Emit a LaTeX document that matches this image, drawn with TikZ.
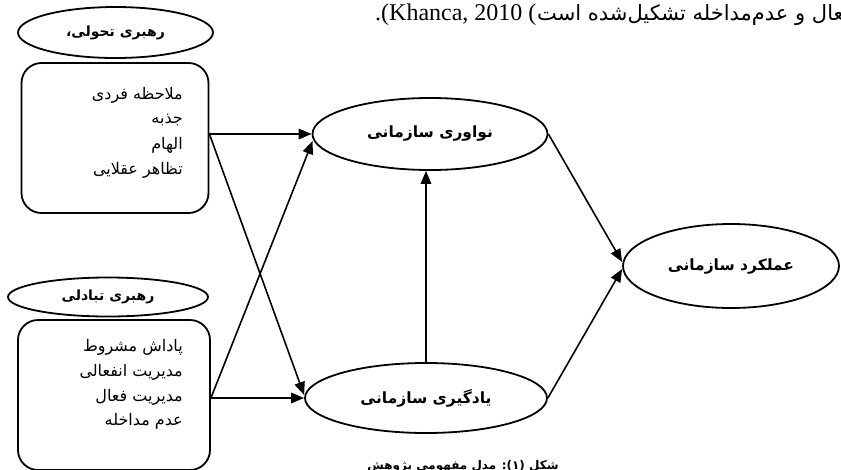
\documentclass[tikz,border=0pt]{standalone}
\usepackage{fontspec}
\setmainfont{Liberation Serif}
\newfontfamily\fa[Script=Arabic]{DejaVu Sans}
\TeXXeTstate=1
\usetikzlibrary{shapes.geometric,arrows.meta}
\tikzset{
  oval/.style={ellipse, draw, line width=1.8pt, inner sep=0pt, font=\fa\bfseries\fontsize{14}{16}\selectfont},
  bigoval/.style={oval, font=\fa\bfseries\fontsize{15.5}{18}\selectfont},
  listbox/.style={draw, rounded corners=20pt, line width=1.8pt, minimum width=187pt, minimum height=150pt, inner sep=0pt},
  item/.style={anchor=east, inner sep=0pt, font=\fa\fontsize{16}{18}\selectfont},
  link/.style={line width=1.6pt, -{Triangle[length=13pt,width=10.5pt]}},
}
\begin{document}
\begin{tikzpicture}[x=1pt,y=-1pt]
\useasboundingbox (0,0) rectangle (841,469);
\clip (0,0) rectangle (841,469);
% top running text (cut by the page)
\node[anchor=base west, inner sep=0pt, font=\fontsize{24}{26}\selectfont] (toplatin) at (375,20) {.(Khanca, 2010 (};
\node[anchor=base west, inner sep=0pt, font=\fa\fontsize{21}{24}\selectfont] (toparabic) at (537,20) {\beginR فعال و عدم‌مداخله تشکیل‌شده است\endR};
% left groups
\node[oval, minimum width=195pt, minimum height=51pt] (e1) at (115.5,32.5) {\beginR رهبری تحولی،\endR};
\node[listbox] (b1) at (115,138) {};
\node[item] (t11) at (183,95) {\beginR ملاحظه فردی\endR};
\node[item] (t12) at (183,120) {\beginR جذبه\endR};
\node[item] (t13) at (183,145) {\beginR الهام\endR};
\node[item] (t14) at (183,170) {\beginR تظاهر عقلایی\endR};
\node[oval, minimum width=200pt, minimum height=39pt] (e2) at (108,297) {\beginR رهبری تبادلی\endR};
\node[listbox, minimum width=192pt] (b2) at (114,395) {};
\node[item] (t21) at (183,347) {\beginR پاداش مشروط\endR};
\node[item] (t22) at (183,372) {\beginR مدیریت انفعالی\endR};
\node[item] (t23) at (183,397) {\beginR مدیریت فعال\endR};
\node[item] (t24) at (183,421) {\beginR عدم مداخله\endR};
% mediators and outcome
\node[bigoval, minimum width=235pt, minimum height=72pt] (n1) at (430,134) {\beginR نواوری سازمانی\endR};
\node[bigoval, minimum width=242pt, minimum height=70pt] (n2) at (426,398) {\beginR یادگیری سازمانی\endR};
\node[bigoval, minimum width=216pt, minimum height=84pt] (n3) at (731,266) {\beginR عملکرد سازمانی\endR};
% caption (cut by the page, as in the reference)
\node[anchor=base, inner sep=0pt, font=\fa\bfseries\fontsize{12}{14}\selectfont] (cap) at (463,469.5) {\beginR شکل (۱): مدل مفهومی پژوهش\endR};
% connectors
\coordinate (s1) at (b1.east |- n1.west);
\coordinate (s2) at (b2.east |- n2.west);
\draw[link] (s1) -- (n1.west);
\draw[link] (s1) -- ([yshift=3pt]n2.west);
\draw[link] (s2) -- (n2.west);
\draw[link] (s2) -- ([xshift=1pt,yshift=-7pt]n1.west);
\draw[link] (n2.north) -- (n2.north |- n1.south);
\draw[link] (n1.east) -- ([yshift=4pt]n3.west);
\draw[link] (n2.east) -- ([yshift=-3pt]n3.west);
\end{tikzpicture}
\end{document}
